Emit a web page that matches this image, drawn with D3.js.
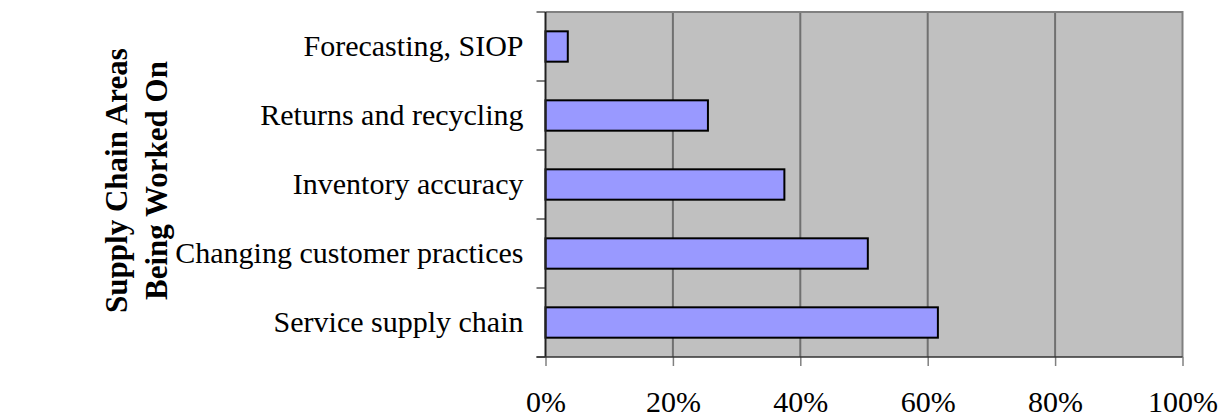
<!DOCTYPE html>
<meta charset="utf-8">
<title>Supply Chain Areas Being Worked On</title>
<style>
body { margin: 0; background: #fff; }
text { font-family: "Liberation Serif", "Times New Roman", serif; fill: #000; }
.domain { display: none; }
</style>
<body>
<div id="chart"></div>
<script src="https://d3js.org/d3.v7.min.js"></script>
<script>
  // categories listed top to bottom, values as share of respondents
  var categories = ["Forecasting, SIOP", "Returns and recycling", "Inventory accuracy",
                    "Changing customer practices", "Service supply chain"];
  var values = [0.035, 0.255, 0.375, 0.506, 0.616];
  var xTicks = [0, 0.2, 0.4, 0.6, 0.8, 1.0];
  var titleLines = ["Supply Chain Areas", "Being Worked On"];

  var width = 1228, height = 420;
  var plot = {left: 545.5, right: 1182.5, top: 12, bottom: 357};

  var svg = d3.select("#chart").append("svg")
      .attr("width", width)
      .attr("height", height);

  var x = d3.scaleLinear().domain([0, 1]).range([plot.left, plot.right]);
  var y = d3.scaleBand().domain(categories)
      .range([plot.top, plot.bottom])
      .paddingInner(0.56).paddingOuter(0.28);
  var step = y.step();

  // plot background
  svg.append("rect")
      .attr("x", plot.left).attr("y", plot.top)
      .attr("width", plot.right - plot.left).attr("height", plot.bottom - plot.top)
      .attr("fill", "#c0c0c0");

  // vertical gridlines
  svg.selectAll(".grid").data(xTicks.slice(1, -1)).enter().append("line")
      .attr("class", "grid")
      .attr("x1", function(d) { return x(d); }).attr("x2", function(d) { return x(d); })
      .attr("y1", plot.top).attr("y2", plot.bottom)
      .attr("stroke", "#707070").attr("stroke-width", 2);

  // top and right frame
  svg.append("path")
      .attr("d", "M" + plot.left + "," + plot.top + "H" + plot.right + "V" + plot.bottom)
      .attr("fill", "none").attr("stroke", "#808080").attr("stroke-width", 2);

  // bars
  svg.selectAll(".bar").data(values).enter().append("rect")
      .attr("class", "bar")
      .attr("x", x(0))
      .attr("y", function(d, i) { return y(categories[i]); })
      .attr("width", function(d) { return x(d) - x(0); })
      .attr("height", y.bandwidth())
      .attr("fill", "#9999ff")
      .attr("stroke", "#000").attr("stroke-width", 2);

  // category tick marks sit on the band boundaries
  var bounds = d3.range(categories.length + 1).map(function(i) { return plot.top + i * step; });
  svg.selectAll(".ytick").data(bounds).enter().append("line")
      .attr("x1", plot.left - 9).attr("x2", plot.left)
      .attr("y1", function(d) { return d; }).attr("y2", function(d) { return d; })
      .attr("stroke", "#808080").attr("stroke-width", 2);

  // y axis labels
  var yAxis = svg.append("g")
      .attr("transform", "translate(" + (plot.left - 22) + ",0)")
      .call(d3.axisLeft(y).tickSize(0).tickPadding(0));
  yAxis.selectAll("text").attr("font-size", 30).attr("dy", "0.3em")
      .style("font-family", "'Liberation Serif', serif");

  // x axis
  var xAxis = svg.append("g")
      .attr("transform", "translate(0," + plot.bottom + ")")
      .call(d3.axisBottom(x).tickValues(xTicks).tickFormat(d3.format(".0%"))
            .tickSize(9).tickPadding(25));
  xAxis.selectAll(".tick line").attr("stroke", "#808080").attr("stroke-width", 1.5);
  xAxis.selectAll("text").attr("font-size", 30)
      .style("font-family", "'Liberation Serif', serif");

  // axis lines
  svg.append("line")
      .attr("x1", plot.left).attr("x2", plot.left)
      .attr("y1", plot.top).attr("y2", plot.bottom)
      .attr("stroke", "#222").attr("stroke-width", 2);
  svg.append("line")
      .attr("x1", plot.left - 9).attr("x2", plot.right)
      .attr("y1", plot.bottom).attr("y2", plot.bottom)
      .attr("stroke", "#333").attr("stroke-width", 1.5);

  // axis title, rotated
  var cy = (plot.top + plot.bottom) / 2 - 4;
  svg.selectAll(".title").data(titleLines).enter().append("text")
      .attr("class", "title")
      .attr("transform", function(d, i) { return "translate(" + (127 + i * 40) + "," + cy + ") rotate(-90)"; })
      .attr("text-anchor", "middle")
      .attr("font-size", 31).attr("font-weight", "bold")
      .text(function(d) { return d; });
</script>
</body>
</html>
